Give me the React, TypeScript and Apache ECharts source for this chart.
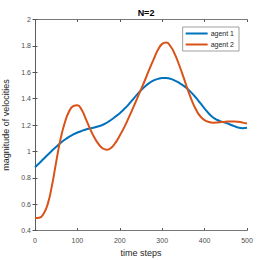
import React, { useEffect, useRef } from "react";
import * as echarts from "echarts";

const steps = [0,10,20,30,40,50,60,70,80,90,100,110,120,130,140,150,160,170,180,190,200,210,220,230,240,250,260,270,280,290,300,310,320,330,340,350,360,370,380,390,400,410,420,430,440,450,460,470,480,490,500];
const agent1 = [0.88,0.91,0.942,0.974,1.005,1.035,1.063,1.088,1.11,1.128,1.143,1.155,1.166,1.174,1.181,1.19,1.202,1.219,1.24,1.264,1.29,1.32,1.353,1.39,1.428,1.463,1.494,1.519,1.538,1.55,1.556,1.556,1.55,1.537,1.52,1.499,1.473,1.442,1.405,1.365,1.325,1.287,1.257,1.238,1.226,1.216,1.204,1.191,1.18,1.176,1.179];
const agent2 = [0.495,0.497,0.525,0.6,0.74,0.92,1.09,1.215,1.3,1.343,1.35,1.315,1.245,1.17,1.105,1.055,1.022,1.012,1.028,1.066,1.12,1.18,1.248,1.32,1.395,1.47,1.545,1.625,1.7,1.77,1.815,1.825,1.795,1.735,1.655,1.565,1.47,1.385,1.315,1.265,1.237,1.223,1.218,1.219,1.222,1.225,1.227,1.227,1.224,1.218,1.211];
const seriesNames = ["agent 1", "agent 2"];
const yTicks = [0.4, 0.6, 0.8, 1, 1.2, 1.4, 1.6, 1.8, 2];

export default function App() {
  const ref = useRef<HTMLDivElement>(null);
  useEffect(() => {
    const chart = echarts.init(ref.current!, null, { renderer: "svg" });
    const axisColor = "#555";
    const labelColor = "#4d4d4d";
    const font = "Liberation Sans, Arial, sans-serif";
    chart.setOption({
      animation: false,
      backgroundColor: "#fff",
      title: {
        text: "N=2",
        left: 141,
        top: 3,
        textAlign: "center",
        textStyle: { fontSize: 9, fontWeight: "bold", color: "#000", fontFamily: font },
      },
      grid: { left: 35, right: 27, top: 19.5, bottom: 29.5, containLabel: false, outerBoundsMode: "none" },
      legend: {
        data: seriesNames,
        orient: "vertical",
        right: 35,
        top: 27,
        icon: "rect",
        itemWidth: 22,
        itemHeight: 2,
        itemGap: 4,
        padding: [3, 5, 3, 3],
        borderColor: "#888",
        borderWidth: 0.8,
        backgroundColor: "#fff",
        textStyle: { fontSize: 7, color: "#262626", fontFamily: font, padding: [0, 0, 0, -2] },
      },
      xAxis: [
        {
          type: "value",
          min: 0,
          max: 500,
          interval: 100,
          name: "time steps",
          nameLocation: "middle",
          nameGap: 15,
          nameTextStyle: { fontSize: 9, color: "#262626", fontFamily: font },
          axisLine: { show: true, lineStyle: { color: axisColor, width: 0.8 } },
          axisTick: { show: true, inside: true, length: 2.5, lineStyle: { color: axisColor } },
          axisLabel: { fontSize: 7, color: labelColor, margin: 6, fontFamily: font },
          splitLine: { show: false },
        },
        {
          type: "value",
          position: "top",
          min: 0,
          max: 500,
          interval: 100,
          axisLine: { show: true, lineStyle: { color: axisColor, width: 0.8 } },
          axisTick: { show: true, inside: true, length: 2.5, lineStyle: { color: axisColor } },
          axisLabel: { show: false },
          splitLine: { show: false },
        },
      ],
      yAxis: [
        {
          type: "value",
          min: 0.4,
          max: 2,
          interval: 0.2,
          name: "magnitude of velocities",
          nameLocation: "middle",
          nameGap: 20,
          nameTextStyle: { fontSize: 9, color: "#262626", fontFamily: font },
          axisLine: { show: true, lineStyle: { color: axisColor, width: 0.8 } },
          axisTick: { show: true, inside: true, length: 2.5, lineStyle: { color: axisColor } },
          axisLabel: {
            fontSize: 7,
            color: labelColor,
            margin: 4,
            fontFamily: font,
            formatter: (v: number) => {
              const r = Math.round(v * 10) / 10;
              return yTicks.some((t) => Math.abs(t - r) < 1e-6) ? String(r) : "";
            },
          },
          splitLine: { show: false },
        },
        {
          type: "value",
          position: "right",
          min: 0.4,
          max: 2,
          interval: 0.2,
          axisLine: { show: true, lineStyle: { color: axisColor, width: 0.8 } },
          axisTick: { show: true, inside: true, length: 2.5, lineStyle: { color: axisColor } },
          axisLabel: { show: false },
          splitLine: { show: false },
        },
      ],
      series: [
        {
          name: seriesNames[0],
          type: "line",
          data: steps.map((s, i) => [s, agent1[i]]),
          smooth: 0.5,
          showSymbol: false,
          symbol: "none",
          lineStyle: { color: "#0072BD", width: 2 },
          itemStyle: { color: "#0072BD" },
        },
        {
          name: seriesNames[1],
          type: "line",
          data: steps.map((s, i) => [s, agent2[i]]),
          smooth: 0.5,
          showSymbol: false,
          symbol: "none",
          lineStyle: { color: "#D95319", width: 2 },
          itemStyle: { color: "#D95319" },
        },
      ],
    });
    return () => chart.dispose();
  }, []);
  return <div ref={ref} style={{ width: 274, height: 260, position: "absolute", left: 0, top: 0 }} />;
}
